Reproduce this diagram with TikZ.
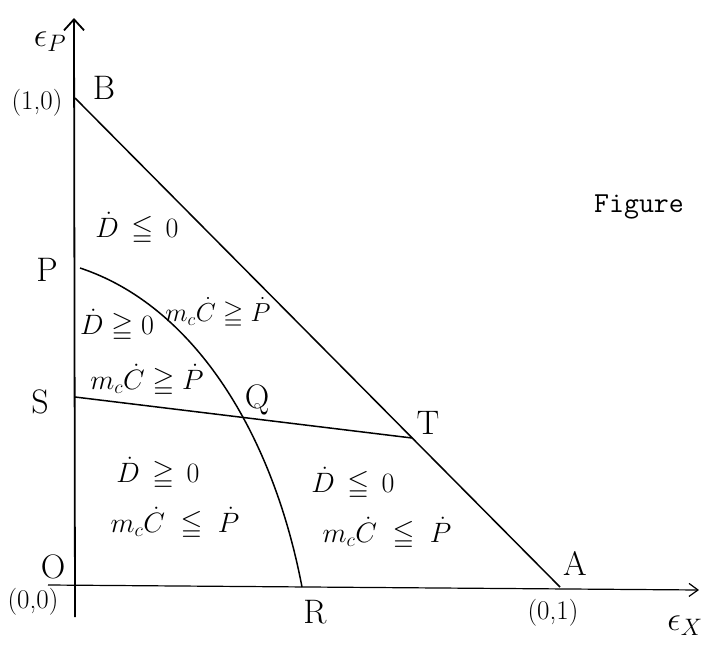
\documentclass[tikz,border=0pt]{standalone}
\usepackage{fix-cm}
\usepackage{amsmath,amssymb}
\usetikzlibrary{arrows.meta,positioning}

\begin{document}
\begin{tikzpicture}[x=1pt,y=-1pt,
  lbl/.style={font=\fontsize{34}{38}\selectfont,inner sep=0pt},
  crd/.style={font=\fontsize{27}{30}\selectfont,inner sep=0pt},
  reg/.style={font=\fontsize{28}{32}\selectfont,inner sep=0pt},
  ln/.style={line width=1.5pt},
  ax/.style={line width=1.8pt,-{Straight Barb[length=11pt,width=20pt]}}]
\useasboundingbox (0,0) rectangle (705,645);
% axes
\coordinate (O) at (75,586);
\coordinate (ybot) at (75,617);
\coordinate (ytop) at (74,18);
\coordinate (xbeg) at (48,585);
\coordinate (xend) at (699,590);
\draw[ax] (ybot) -- (ytop);
\draw[line width=1.2pt,-{Straight Barb[length=9pt,width=13pt]}] (xbeg) -- (xend);
% triangle and the two boundaries
\coordinate (B) at (75,98);
\coordinate (A) at (560,587);
\coordinate (S) at (75,397);
\coordinate (T) at (412,438);
\coordinate (P) at (80,268);
\coordinate (R) at (302,587);
\draw[ln] (B) -- (A);
\draw[ln] (S) -- (T);
\draw[ln] (P) .. controls (192,305) and (272,430) .. (R);
% point labels
\node[lbl] (lB) at (104,88) {B};
\node[lbl] (lP) at (47,270) {P};
\node[lbl] (lS) at (40,402) {S};
\node[lbl] (lQ) at (257,400) {Q};
\node[lbl] (lT) at (428,423) {T};
\node[lbl] (lO) at (53,567) {O};
\node[lbl] (lR) at (315,612) {R};
\node[lbl] (lA) at (575,563) {A};
\node[crd] (c10) at (37,103) {(1,0)};
\node[crd] (c00) at (33,602) {(0,0)};
\node[crd] (c01) at (553,613) {(0,1)};
\node[lbl] (ey) at (50,42) {$\epsilon_{P}$};
\node[lbl] (ex) at (685,626) {$\epsilon_{X}$};
% regions
\node[reg] (r1) at (137,228) {$\dot{D}\,\leqq\,0$};
\node[reg] (r2) at (117,325) {$\dot{D}\geqq 0$};
\node[reg,font=\fontsize{26}{30}\selectfont] (r3) at (218,313) {$m_c\dot{C}\geqq\dot{P}$};
\node[reg] (r4) at (147,380) {$m_c\dot{C}\geqq\dot{P}$};
\node[reg] (r5) at (158,473) {$\dot{D}\,\geqq\,0$};
\node[reg] (r6) at (175,523) {$m_c\dot{C}\;\leqq\;\dot{P}$};
\node[reg] (r7) at (353,483) {$\dot{D}\,\leqq\,0$};
\node[reg] (r8) at (387,533) {$m_c\dot{C}\;\leqq\;\dot{P}$};
\node[font=\ttfamily\fontsize{29}{32}\selectfont,inner sep=0pt] (fig) at (639,207) {Figure};
\end{tikzpicture}
\end{document}
